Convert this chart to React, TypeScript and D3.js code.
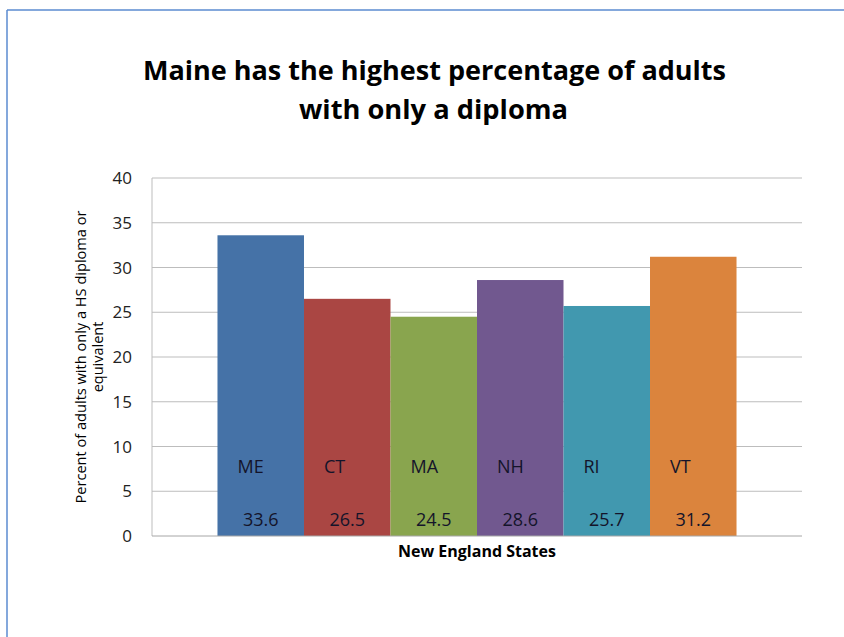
import React from "react";
import * as d3 from "d3";

const states = ["ME", "CT", "MA", "NH", "RI", "VT"];
const values = [33.6, 26.5, 24.5, 28.6, 25.7, 31.2];
const colors = ["#4572A7", "#AA4643", "#89A54E", "#71588F", "#4198AF", "#DB843D"];
const yTicks = [0, 5, 10, 15, 20, 25, 30, 35, 40];
const titleLines = ["Maine has the highest percentage of adults", "with only a diploma"];
const yTitleLines = ["Percent of adults with only a HS diploma or", "equivalent"];
const xTitle = "New England States";

const W = 844, H = 637;
const plotL = 152, plotR = 802, plotT = 178, plotB = 536;

export default function App() {
  const x = d3.scaleBand<string>().domain(states).range([plotL, plotR]).paddingInner(0).paddingOuter(0.757);
  const y = d3.scaleLinear().domain([0, 40]).range([plotB, plotT]);
  const font = "'Open Sans', 'Noto Sans', sans-serif";
  const yc = (plotT + plotB) / 2;
  return (
    <svg width={W} height={H} style={{ position: "absolute", left: 0, top: 0, background: "#fff" }} fontFamily={font}>
      <rect x={0} y={0} width={W} height={H} fill="#fff" />
      <line x1={7} y1={10} x2={W} y2={10} stroke="#5B8BD0" strokeWidth={1.5} />
      <line x1={7} y1={10} x2={7} y2={H} stroke="#5B8BD0" strokeWidth={1.5} />
      <text x={434.5} y={80} textAnchor="middle" fontSize={27} fontWeight="bold" fill="#000" textLength={583} lengthAdjust="spacingAndGlyphs">{titleLines[0]}</text>
      <text x={433.5} y={119} textAnchor="middle" fontSize={27} fontWeight="bold" fill="#000" textLength={269} lengthAdjust="spacingAndGlyphs">{titleLines[1]}</text>
      {yTicks.map((t) => (
        <g key={t}>
          {t > 0 && <line x1={plotL} x2={plotR} y1={y(t)} y2={y(t)} stroke="#BDBDBD" strokeWidth={1} />}
          <text x={132} y={y(t)} dy="0.36em" textAnchor="end" fontSize={17} fill="#222">{t}</text>
        </g>
      ))}
      <line x1={plotL} x2={plotL} y1={plotT} y2={plotB} stroke="#BDBDBD" strokeWidth={1} />
      {states.map((s, i) => (
        <rect key={s} x={x(s)} y={y(values[i])} width={x.bandwidth()} height={y(0) - y(values[i])} fill={colors[i]} />
      ))}
      <line x1={plotL} x2={plotR} y1={plotB} y2={plotB} stroke="#A6A6A6" strokeWidth={1} />
      {states.map((s, i) => (
        <g key={"l" + s}>
          <text x={(x(s) as number) + 20} y={473} fontSize={18} fill="#14142a">{s}</text>
          <text x={(x(s) as number) + x.bandwidth() / 2} y={526} textAnchor="middle" fontSize={18} fill="#14142a">{values[i].toFixed(1)}</text>
        </g>
      ))}
      <text x={477} y={557} textAnchor="middle" fontSize={16} fontWeight="bold" fill="#000">{xTitle}</text>
      <g transform={`translate(81, ${yc}) rotate(-90)`}>
        <text x={0} y={0} textAnchor="middle" fontSize={14.5} fill="#000" dy="0.35em" textLength={293} lengthAdjust="spacingAndGlyphs">{yTitleLines[0]}</text>
        <text x={0} y={17} textAnchor="middle" fontSize={14.5} fill="#000" dy="0.35em">{yTitleLines[1]}</text>
      </g>
    </svg>
  );
}
